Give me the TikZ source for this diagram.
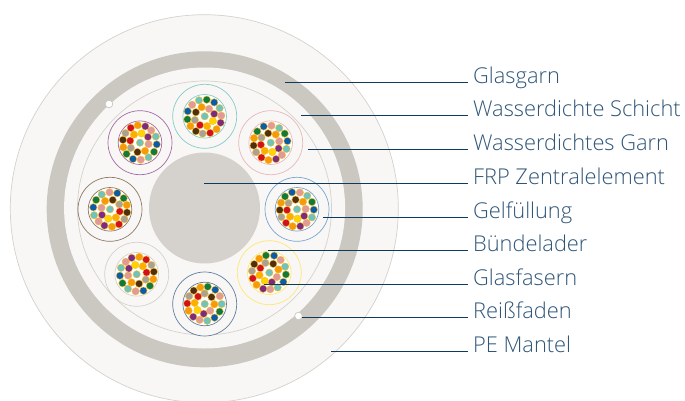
\documentclass[tikz,border=0pt]{standalone}
\usepackage{fontspec}
\setmainfont[BoldFont={Open Sans}]{Open Sans Light}
\definecolor{fT}{HTML}{6FC3BD}\definecolor{fG}{HTML}{0F7A3C}\definecolor{fB}{HTML}{0B5CA8}
\definecolor{fP}{HTML}{E09A9C}\definecolor{fO}{HTML}{F59A0A}\definecolor{fN}{HTML}{4F2F10}
\definecolor{fA}{HTML}{A8A296}\definecolor{fV}{HTML}{7B2C80}\definecolor{fY}{HTML}{FFD400}
\definecolor{fR}{HTML}{D0121F}\definecolor{fE}{HTML}{FBB000}
\definecolor{sheath}{HTML}{F8F7F5}\definecolor{ringc}{HTML}{CBC8C1}\definecolor{corec}{HTML}{D5D2CD}
\definecolor{linec}{HTML}{0E3A5C}\definecolor{textc}{HTML}{2F5578}\definecolor{slate}{HTML}{5F7F9F}
\tikzset{
  leader/.style={draw=linec,line width=0.8pt},
  lab/.style={anchor=base west,inner sep=0pt,inner xsep=5pt,text=textc,font=\fontsize{21.8pt}{24pt}\selectfont},
  fibre/.style={draw=fE!85!white,line width=0.4pt},
  ripcord/.style={fill=white,draw=ringc,line width=0.7pt}
}
\newcommand{\bundle}[5]{% cx cy rot mirror colour
  \draw[#5,line width=0.7pt,fill=sheath] (#1,#2) circle (32);
  \draw[#5,line width=0.7pt,fill=white] (#1,#2) circle (21.8);
  \foreach \px/\py/\pc in {117/92/fT,140/90/fG,162/98/fB,97/105/fP,125/112/fO,147/117/fP,178/115/fT,84/124/fB,108/127/fN,162/132/fV,183/137/fP,134/139/fT,83/148/fG,105/150/fA,158/153/fY,181/158/fV,92/168/fO,120/165/fR,141/168/fE,169/177/fO,108/183/fN,128/190/fA,150/188/fR}{
    \pgfmathsetmacro{\qx}{#4*(\px-134)/2.95}
    \pgfmathsetmacro{\qy}{(\py-139)/2.95}
    \pgfmathsetmacro{\rx}{#1+\qx*cos(#3)-\qy*sin(#3)}
    \pgfmathsetmacro{\ry}{#2+\qx*sin(#3)+\qy*cos(#3)}
    \draw[fibre,fill=\pc] (\rx,\ry) circle (3.7);
  }
}
\begin{document}
\begin{tikzpicture}[x=1pt,y=-1pt]
\useasboundingbox (0,0) rectangle (685,401);
\fill[white] (0,0) rectangle (685,401);
\draw[fill=sheath,draw=corec,line width=0.7pt] (204.3,208.7) circle (194);
\fill[ringc] (204.7,209.3) circle (158);
\fill[sheath] (204.6,208) circle (140.5);
\draw[corec,line width=0.7pt] (204.5,208) circle (127);
\fill[corec] (204.5,208) circle (55.5);
\draw[ripcord] (109,104) circle (3.8);
\draw[ripcord] (298.5,316) circle (3.8);
\bundle{204.7}{116.3}{0}{1}{fT!85!white}
\bundle{270.7}{142.7}{50}{1}{fP!70!white}
\bundle{297}{209.3}{57}{1}{fB!55!white}
\bundle{269.3}{272.7}{89}{1}{fY!55!white}
\bundle{204.7}{304}{110}{1}{slate}
\bundle{136.7}{274.3}{231}{1}{corec}
\bundle{110}{209.3}{-49}{-1}{fN!65!white}
\bundle{140}{142.7}{130}{-1}{fV!70!white}
\node[lab] (l1) at (468,83.8) {Glasgarn};
\node[lab] (l2) at (468,116.5) {Wasserdichte Schicht};
\node[lab] (l3) at (468,150.5) {Wasserdichtes Garn};
\node[lab] (l4) at (468,184) {FRP Zentralelement};
\node[lab] (l5) at (468,218) {Gelfüllung};
\node[lab] (l6) at (468,251) {Bündelader};
\node[lab] (l7) at (468,285) {Glasfasern};
\node[lab] (l8) at (468,318) {Reißfaden};
\node[lab] (l9) at (468,352) {PE Mantel};
\coordinate (a1) at (285,82.7);
\coordinate (a2) at (301,115.3);
\coordinate (a3) at (308,149.3);
\coordinate (a4) at (204,183);
\coordinate (a5) at (323,217.3);
\coordinate (a6) at (268,250.3);
\coordinate (a7) at (264,284.3);
\coordinate (a8) at (302.3,317);
\coordinate (a9) at (331,351);
\foreach \i in {1,...,9}{\draw[leader] (a\i) -- (a\i -| l\i.west);}
\end{tikzpicture}
\end{document}
